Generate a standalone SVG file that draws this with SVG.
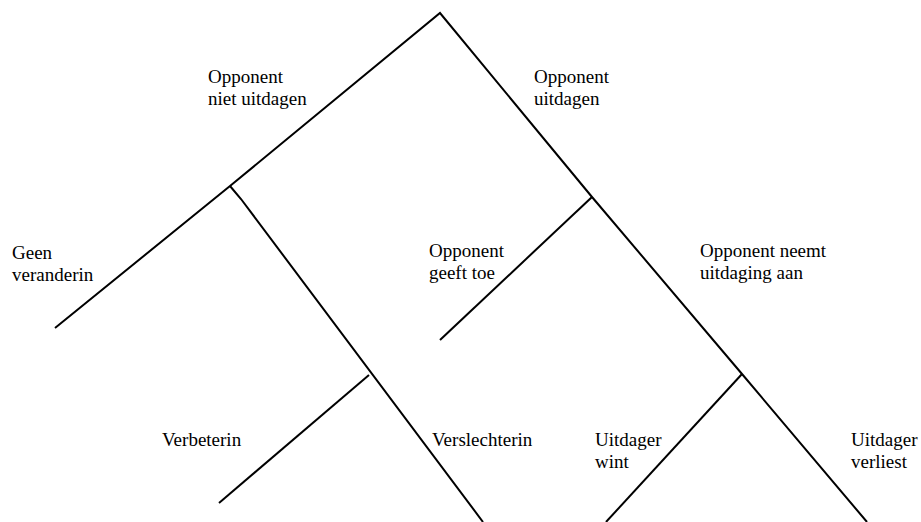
<svg xmlns="http://www.w3.org/2000/svg" width="921" height="522" viewBox="0 0 921 522">
<style>
.l{fill:none;stroke:#000;stroke-width:2;stroke-linecap:butt;stroke-linejoin:miter}
text{font-family:"Liberation Serif","Times New Roman",serif;font-size:19px;fill:#000}
</style>
<rect width="921" height="522" fill="#fff"/>
<g id="connectors">
<polyline class="l" points="55,328 230,186 440,13 592,197 742,374 867,522"/>
<polyline class="l" points="230,186 241,199 483,522"/>
<line class="l" x1="369" y1="375" x2="219" y2="503"/>
<line class="l" x1="592" y1="197" x2="440" y2="340"/>
<line class="l" x1="742" y1="374" x2="606" y2="522"/>
</g>
<g id="n-niet"><text x="208" y="83">Opponent</text><text x="208" y="105">niet uitdagen</text></g>
<g id="n-uitdagen"><text x="534" y="83">Opponent</text><text x="534" y="105">uitdagen</text></g>
<g id="n-geen"><text x="12" y="259">Geen</text><text x="12" y="281">veranderin</text></g>
<g id="n-geeft"><text x="429" y="257">Opponent</text><text x="429" y="279">geeft toe</text></g>
<g id="n-neemt"><text x="700" y="257">Opponent neemt</text><text x="700" y="279">uitdaging aan</text></g>
<g id="n-verbeterin"><text x="162" y="446">Verbeterin</text></g>
<g id="n-verslechterin"><text x="432" y="446">Verslechterin</text></g>
<g id="n-wint"><text x="595" y="446">Uitdager</text><text x="595" y="468">wint</text></g>
<g id="n-verliest"><text x="851" y="446">Uitdager</text><text x="851" y="468">verliest</text></g>
</svg>
